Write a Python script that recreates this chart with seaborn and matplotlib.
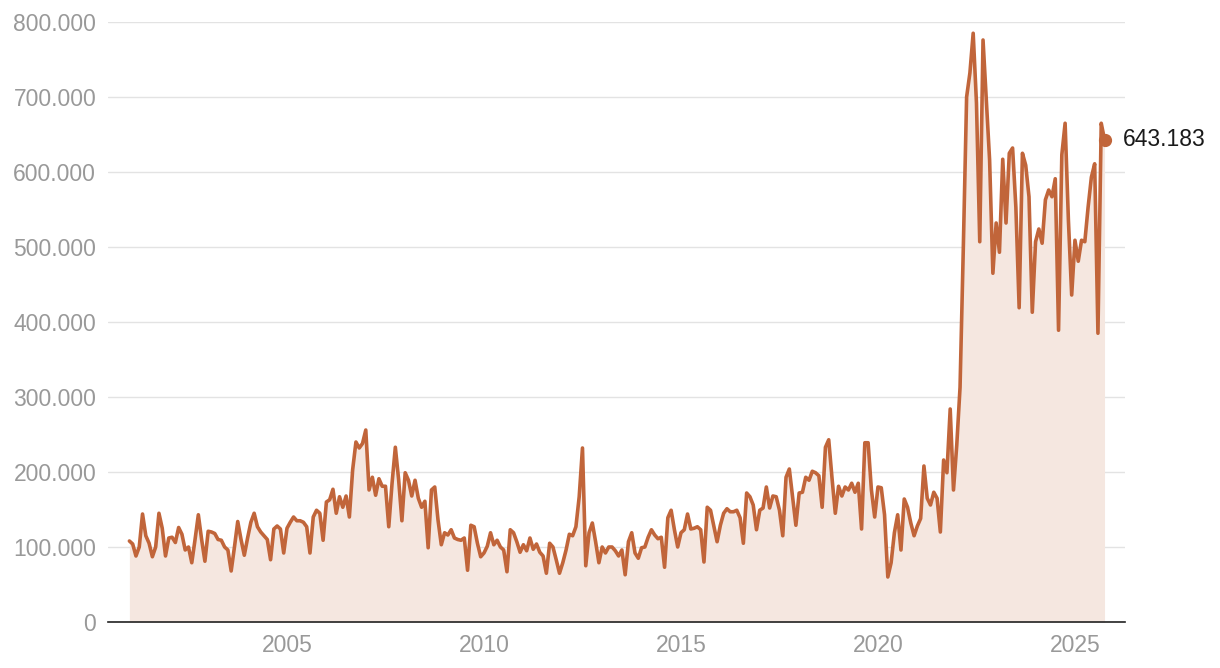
import numpy as np
import pandas as pd
import matplotlib
matplotlib.use("Agg")
import matplotlib.pyplot as plt
import seaborn as sns
from matplotlib.ticker import FuncFormatter, FixedLocator

# Monthly values (thousands), Jan 2001 .. Oct 2025
start_year = 2001
values = [
    # 2001
    108, 104, 88, 100, 144, 115, 105, 87, 100, 145, 125, 88,
    # 2002
    112, 113, 106, 126, 117, 96, 100, 79, 110, 143, 110, 81,
    # 2003
    121, 120, 118, 110, 109, 100, 96, 68, 100, 134, 110, 89,
    # 2004
    112, 133, 145, 127, 120, 115, 110, 83, 124, 128, 124, 92,
    # 2005
    125, 133, 140, 135, 135, 133, 127, 92, 140, 149, 145, 109,
    # 2006
    160, 163, 177, 145, 167, 153, 168, 140, 203, 240, 232, 238,
    # 2007
    256, 176, 193, 169, 191, 181, 181, 127, 185, 233, 190, 135,
    # 2008
    199, 189, 168, 189, 165, 153, 161, 99, 176, 180, 136, 103,
    # 2009
    119, 116, 123, 112, 110, 109, 112, 69, 129, 127, 105, 87,
    # 2010
    92, 101, 119, 103, 109, 100, 96, 67, 123, 119, 107, 93,
    # 2011
    103, 95, 112, 97, 104, 93, 88, 65, 105, 100, 83, 65,
    # 2012
    79, 96, 117, 115, 127, 167, 232, 75, 119, 132, 107, 79,
    # 2013
    100, 92, 100, 100, 95, 88, 96, 63, 107, 119, 92, 85,
    # 2014
    99, 100, 113, 123, 116, 111, 113, 73, 139, 149, 123, 100,
    # 2015
    119, 123, 144, 124, 125, 127, 123, 80, 153, 149, 128, 107,
    # 2016
    129, 145, 151, 147, 147, 149, 139, 105, 172, 167, 156, 123,
    # 2017
    149, 152, 180, 152, 168, 167, 149, 115, 193, 204, 167, 129,
    # 2018
    172, 173, 193, 189, 201, 199, 195, 153, 233, 243, 192, 145,
    # 2019
    181, 168, 180, 176, 185, 173, 185, 124, 239, 239, 176, 140,
    # 2020
    180, 179, 143, 60, 79, 119, 143, 96, 164, 153, 132, 115,
    # 2021
    128, 138, 208, 165, 156, 173, 165, 120, 216, 199, 284, 176,
    # 2022
    236, 313, 500, 700, 732, 785, 692, 507, 776, 696, 616, 465,
    # 2023
    532, 493, 617, 532, 625, 632, 553, 419, 625, 609, 567, 413,
    # 2024
    507, 524, 505, 563, 576, 567, 591, 389, 623, 665, 536, 436,
    # 2025
    509, 481, 509, 507, 553, 593, 611, 385, 665, 643.183,
]
x_ticks = [2005, 2010, 2015, 2020, 2025]
y_ticks = [0, 100, 200, 300, 400, 500, 600, 700, 800]

line_color = "#c1653a"
fill_color = "#f5e7e0"

dates = start_year + np.arange(len(values)) / 12.0
df = pd.DataFrame({"year": dates, "value": values})

sns.set_theme(style="white")
plt.rcParams["font.family"] = ["Liberation Sans", "DejaVu Sans"]

fig = plt.figure(figsize=(12.2, 6.68), dpi=100)
ax = fig.add_axes([108 / 1220, 1 - 622 / 668, (1125 - 108) / 1220, 600 / 668])

ax.fill_between(df["year"], 0, df["value"], color=fill_color, linewidth=0, zorder=1)
sns.lineplot(data=df, x="year", y="value", ax=ax, color=line_color, linewidth=2.6,
             zorder=3, solid_joinstyle="round")

last = df.iloc[-1]
ax.plot([last["year"]], [last["value"]], "o", color=line_color, markersize=8.5, zorder=4)
label = f"{last['value']:.3f}"
ax.annotate(label, (last["year"], last["value"]), xytext=(13, 0),
            textcoords="offset points", va="center", ha="left",
            fontsize=16.5, color="#1a1a1a")

ax.set_xlim(2000.457, 2026.27)
ax.set_ylim(0, 800)
ax.yaxis.set_major_locator(FixedLocator(y_ticks))
ax.xaxis.set_major_locator(FixedLocator(x_ticks))

def yfmt(v, pos):
    if v == 0:
        return "0"
    return format(int(round(v * 1000)), ",").replace(",", ".")

ax.yaxis.set_major_formatter(FuncFormatter(yfmt))
ax.xaxis.set_major_formatter(FuncFormatter(lambda v, p: f"{int(v)}"))

ax.grid(axis="y", color="#e3e3e3", linewidth=1.0, zorder=0)
ax.grid(axis="x", visible=False)
for s in ["top", "right", "left"]:
    ax.spines[s].set_visible(False)
ax.spines["bottom"].set_color("#222222")
ax.spines["bottom"].set_linewidth(1.2)
ax.spines["bottom"].set_zorder(5)
ax.tick_params(axis="both", length=0, labelsize=16.5, colors="#999999")
ax.tick_params(axis="y", pad=8.5)
ax.tick_params(axis="x", pad=9)
ax.set_xlabel("")
ax.set_ylabel("")
ax.set_axisbelow(True)

fig.savefig("out.png", dpi=100)
